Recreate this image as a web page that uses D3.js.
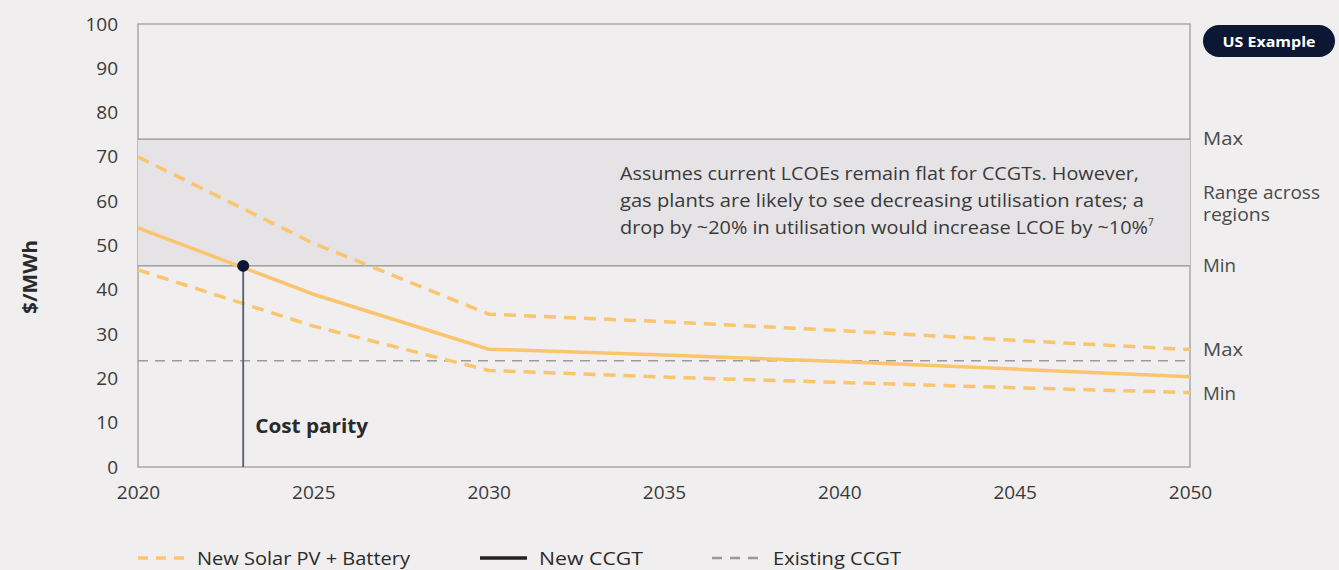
<!DOCTYPE html>
<html>
<head>
<meta charset="utf-8">
<script src="https://cdn.jsdelivr.net/npm/d3@7"></script>
<style>
  html, body { margin: 0; padding: 0; background: #f0eeef; }
  svg { display: block; font-family: "Open Sans", "DejaVu Sans", sans-serif; }
</style>
</head>
<body>
<svg id="chart" width="1339" height="570"></svg>
<script>
// LCOE outlook, $/MWh
const years = [2020, 2025, 2030, 2035, 2040, 2045, 2050];
const solarMax = [70, 50.5, 34.5, 32.8, 30.8, 28.6, 26.5];
const solarMid = [54, 39, 26.6, 25.3, 23.8, 22.1, 20.4];
const solarMin = [44.5, 31.8, 21.8, 20.3, 19.1, 17.9, 16.8];
const existingCCGT = 24;
const newCCGTRange = [45.4, 74];
const parityYear = 2023;
const parityValue = 45.4;
const yTicks = [0, 10, 20, 30, 40, 50, 60, 70, 80, 90, 100];
const xTicks = [2020, 2025, 2030, 2035, 2040, 2045, 2050];
const noteLines = [
  "Assumes current LCOEs remain flat for CCGTs. However,",
  "gas plants are likely to see decreasing utilisation rates; a",
  "drop by ~20% in utilisation would increase LCOE by ~10%"
];
const legendItems = ["New Solar PV + Battery", "New CCGT", "Existing CCGT"];

const svg = d3.select("#chart");
const plotL = 138, plotR = 1190, plotT = 24, plotB = 467;

const x = d3.scaleLinear().domain([2020, 2050]).range([plotL, plotR]);
const y = d3.scaleLinear().domain([0, 100]).range([plotB, plotT]);

const orange = "#fbc56d";
const textCol = "#3a3a3a";

// plot frame
svg.append("rect")
  .attr("x", plotL).attr("y", plotT)
  .attr("width", plotR - plotL).attr("height", plotB - plotT)
  .attr("fill", "#f0eeef").attr("stroke", "#a9a9a9").attr("stroke-width", 1.5);

// new CCGT range band
svg.append("rect")
  .attr("x", plotL).attr("y", y(newCCGTRange[1]))
  .attr("width", plotR - plotL).attr("height", y(newCCGTRange[0]) - y(newCCGTRange[1]))
  .attr("fill", "#e5e3e5");
newCCGTRange.forEach(v => {
  svg.append("line")
    .attr("x1", plotL).attr("x2", plotR)
    .attr("y1", y(v)).attr("y2", y(v))
    .attr("stroke", "#8f8f8f").attr("stroke-width", 1.2);
});

// axes
const yAxis = svg.append("g")
  .attr("transform", `translate(${plotL - 20},0)`)
  .call(d3.axisLeft(y).tickValues(yTicks).tickSize(0).tickPadding(0));
yAxis.select(".domain").remove();
yAxis.selectAll("text").attr("font-size", 19).attr("fill", textCol)
  .attr("font-family", "'Open Sans', sans-serif");

const xAxis = svg.append("g")
  .attr("transform", `translate(0,${plotB + 18})`)
  .call(d3.axisBottom(x).tickValues(xTicks).tickFormat(d3.format("d")).tickSize(0).tickPadding(0));
xAxis.select(".domain").remove();
xAxis.selectAll("text").attr("font-size", 19).attr("fill", textCol)
  .attr("font-family", "'Open Sans', sans-serif");

svg.append("text")
  .attr("transform", "translate(37,277) rotate(-90)")
  .attr("text-anchor", "middle")
  .attr("font-size", 20).attr("font-weight", "bold").attr("fill", "#2a2a2a")
  .attr("textLength", 74).attr("lengthAdjust", "spacingAndGlyphs")
  .text("$/MWh");

// existing CCGT reference
svg.append("line")
  .attr("x1", plotL).attr("x2", plotR)
  .attr("y1", y(existingCCGT)).attr("y2", y(existingCCGT))
  .attr("stroke", "#9a9a9a").attr("stroke-width", 1.5)
  .attr("stroke-dasharray", "10,7");

// solar + battery lines
const line = d3.line().x((d, i) => x(years[i])).y(d => y(d));
[solarMax, solarMin].forEach(s => {
  svg.append("path").datum(s).attr("d", line)
    .attr("fill", "none").attr("stroke", orange).attr("stroke-width", 3.5)
    .attr("stroke-dasharray", "12,8");
});
svg.append("path").datum(solarMid).attr("d", line)
  .attr("fill", "none").attr("stroke", orange).attr("stroke-width", 3.5);

// cost parity marker
svg.append("line")
  .attr("x1", x(parityYear)).attr("x2", x(parityYear))
  .attr("y1", y(parityValue)).attr("y2", plotB)
  .attr("stroke", "#525d70").attr("stroke-width", 1.8);
svg.append("circle")
  .attr("cx", x(parityYear)).attr("cy", y(parityValue)).attr("r", 6)
  .attr("fill", "#0b1733");
svg.append("text")
  .attr("x", x(parityYear) + 12).attr("y", 433)
  .attr("font-size", 20).attr("font-weight", "bold").attr("fill", "#2a2a2a")
  .attr("textLength", 113).attr("lengthAdjust", "spacingAndGlyphs")
  .text("Cost parity");

// note
const noteWidths = [519, 524, 528];
const note = svg.append("text").attr("font-size", 18).attr("fill", textCol);
noteLines.forEach((t, i) => {
  note.append("tspan").attr("x", 620).attr("y", 180 + i * 27)
    .attr("textLength", noteWidths[i]).attr("lengthAdjust", "spacingAndGlyphs")
    .text(t);
});
note.append("tspan").attr("font-size", 10).attr("dy", -8).text("7");

// right-hand labels
const rlab = svg.append("g").attr("font-size", 18).attr("fill", "#4a4a4a");
[["Max", 145, 40], ["Range across", 199, 117], ["regions", 221, 67], ["Min", 272, 33], ["Max", 356, 40], ["Min", 400, 33]]
  .forEach(([t, yy, w]) => rlab.append("text").attr("x", 1203).attr("y", yy)
    .attr("textLength", w).attr("lengthAdjust", "spacingAndGlyphs").text(t));

// badge
svg.append("rect")
  .attr("x", 1203).attr("y", 25).attr("width", 132).attr("height", 32).attr("rx", 16)
  .attr("fill", "#0b1733");
svg.append("text")
  .attr("x", 1269).attr("y", 47).attr("text-anchor", "middle")
  .attr("font-size", 15).attr("font-weight", "bold").attr("fill", "#ffffff")
  .attr("textLength", 93).attr("lengthAdjust", "spacingAndGlyphs")
  .text("US Example");

// legend
const legY = 558;
const leg = [
  { x1: 138, x2: 186, tx: 197, w: 213, stroke: orange, dash: "10,8", sw: 3.5 },
  { x1: 480, x2: 527, tx: 539, w: 104, stroke: "#222222", dash: null, sw: 3.5 },
  { x1: 712, x2: 760, tx: 773, w: 128, stroke: "#999999", dash: "10,8", sw: 2.5 }
];
leg.forEach((d, i) => {
  svg.append("line").attr("x1", d.x1).attr("x2", d.x2).attr("y1", legY).attr("y2", legY)
    .attr("stroke", d.stroke).attr("stroke-width", d.sw)
    .attr("stroke-dasharray", d.dash);
  svg.append("text").attr("x", d.tx).attr("y", legY + 7)
    .attr("font-size", 18).attr("fill", "#2a2a2a")
    .attr("textLength", d.w).attr("lengthAdjust", "spacingAndGlyphs")
    .text(legendItems[i]);
});
</script>
</body>
</html>
